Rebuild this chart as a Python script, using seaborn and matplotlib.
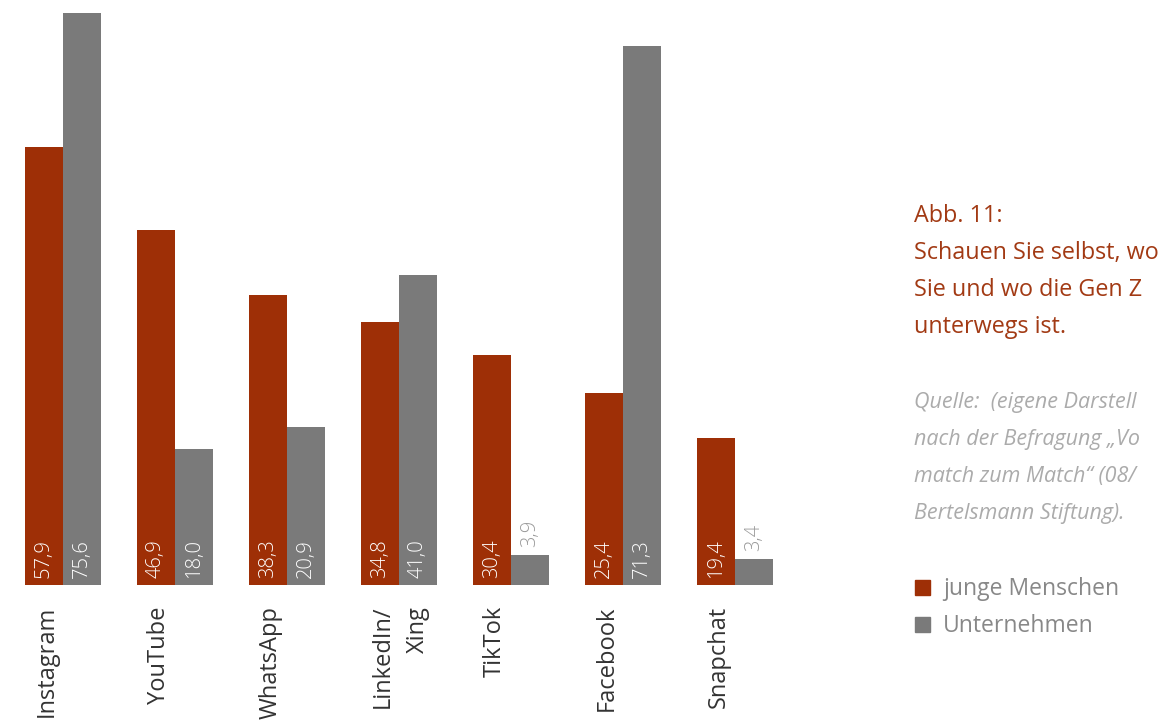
import matplotlib
matplotlib.use("Agg")
import matplotlib.pyplot as plt
import matplotlib.transforms as mtransforms
import seaborn as sns
import pandas as pd

# ---- data ----
platforms = ["Instagram", "YouTube", "WhatsApp", "LinkedIn/\nXing", "TikTok", "Facebook", "Snapchat"]
junge = [57.9, 46.9, 38.3, 34.8, 30.4, 25.4, 19.4]
unternehmen = [75.6, 18.0, 20.9, 41.0, 3.9, 71.3, 3.4]
series = ["junge Menschen", "Unternehmen"]
colors = ["#9E2F06", "#7A7A7A"]

# side texts (as far as the reference shows them; the page crop cuts them at the right edge)
title_lines = ["Abb. 11:", "Schauen Sie selbst, wo", "Sie und wo die Gen Z", "unterwegs ist."]
source_lines = ["Quelle:  (eigene Darstell", "nach der Befragung \u201eVo", "match zum Match\u201c (08/",
                "Bertelsmann Stiftung)."]

sns.set_theme(style="white")
plt.rcParams["font.family"] = ["Open Sans", "DejaVu Sans"]

W, H = 1160, 723
fig = plt.figure(figsize=(W / 100, H / 100), dpi=100)
ppu = 572 / 75.6
ymax = 80
ax = fig.add_axes([7 / W, (H - 585) / H, 784 / W, ymax * ppu / H])

df = pd.DataFrame({
    "Plattform": platforms * 2,
    "Wert": junge + unternehmen,
    "Gruppe": [series[0]] * len(platforms) + [series[1]] * len(platforms),
})
sns.barplot(data=df, x="Plattform", y="Wert", hue="Gruppe", hue_order=series,
            palette=colors, width=0.68, saturation=1, ax=ax, legend=False,
            edgecolor="none", linewidth=0)
ax.set_xlim(-0.5, len(platforms) - 0.5)
ax.set_ylim(0, ymax)
ax.axis("off")

px = 1 / 100  # inches per pixel
for container, values in zip(ax.containers, [junge, unternehmen]):
    for bar, v in zip(container, values):
        xc = bar.get_x() + bar.get_width() / 2
        lab = f"{v:.1f}".replace(".", ",")
        if v >= 10:
            tr = ax.transData + mtransforms.ScaledTranslation(0, 7 * px, fig.dpi_scale_trans)
            ax.text(xc, 0, lab, rotation=90, ha="center", va="bottom", color="white",
                    fontsize=14.5, fontweight="light", transform=tr)
        else:
            tr = ax.transData + mtransforms.ScaledTranslation(0, 8 * px, fig.dpi_scale_trans)
            ax.text(xc, v, lab, rotation=90, ha="center", va="bottom", color="#9a9a9a",
                    fontsize=14.5, fontweight="light", transform=tr)

# category labels
blend = mtransforms.blended_transform_factory(ax.transData, fig.transFigure)
off = mtransforms.ScaledTranslation(-28 * px, 0, fig.dpi_scale_trans)
for i, name in enumerate(platforms):
    fig.text(i, (H - 606) / H, name, rotation=90, ha="left", va="top",
             multialignment="right", linespacing=1.6, fontsize=17, color="#333333",
             transform=blend + off)

# right side text
red_txt = "#A23A14"
for k, line in enumerate(title_lines):
    fig.text(914 / W, (H - (222 + 37 * k)) / H, line, ha="left", va="baseline",
             fontsize=16.8, color=red_txt)
for k, line in enumerate(source_lines):
    fig.text(914 / W, (H - (408 + 37 * k)) / H, line, ha="left", va="baseline",
             fontsize=15.5, color="#ababab", style="italic")

for k, (name, col) in enumerate(zip(series, colors)):
    yb = 595 + 37 * k
    fig.patches.append(plt.Rectangle((915 / W, (H - yb) / H), 15 / W, 15 / H,
                                     transform=fig.transFigure, color=col, figure=fig))
    fig.text(943 / W, (H - yb) / H, name, ha="left", va="baseline", fontsize=16.5, color="#888888")

fig.savefig("out.png", dpi=100)
